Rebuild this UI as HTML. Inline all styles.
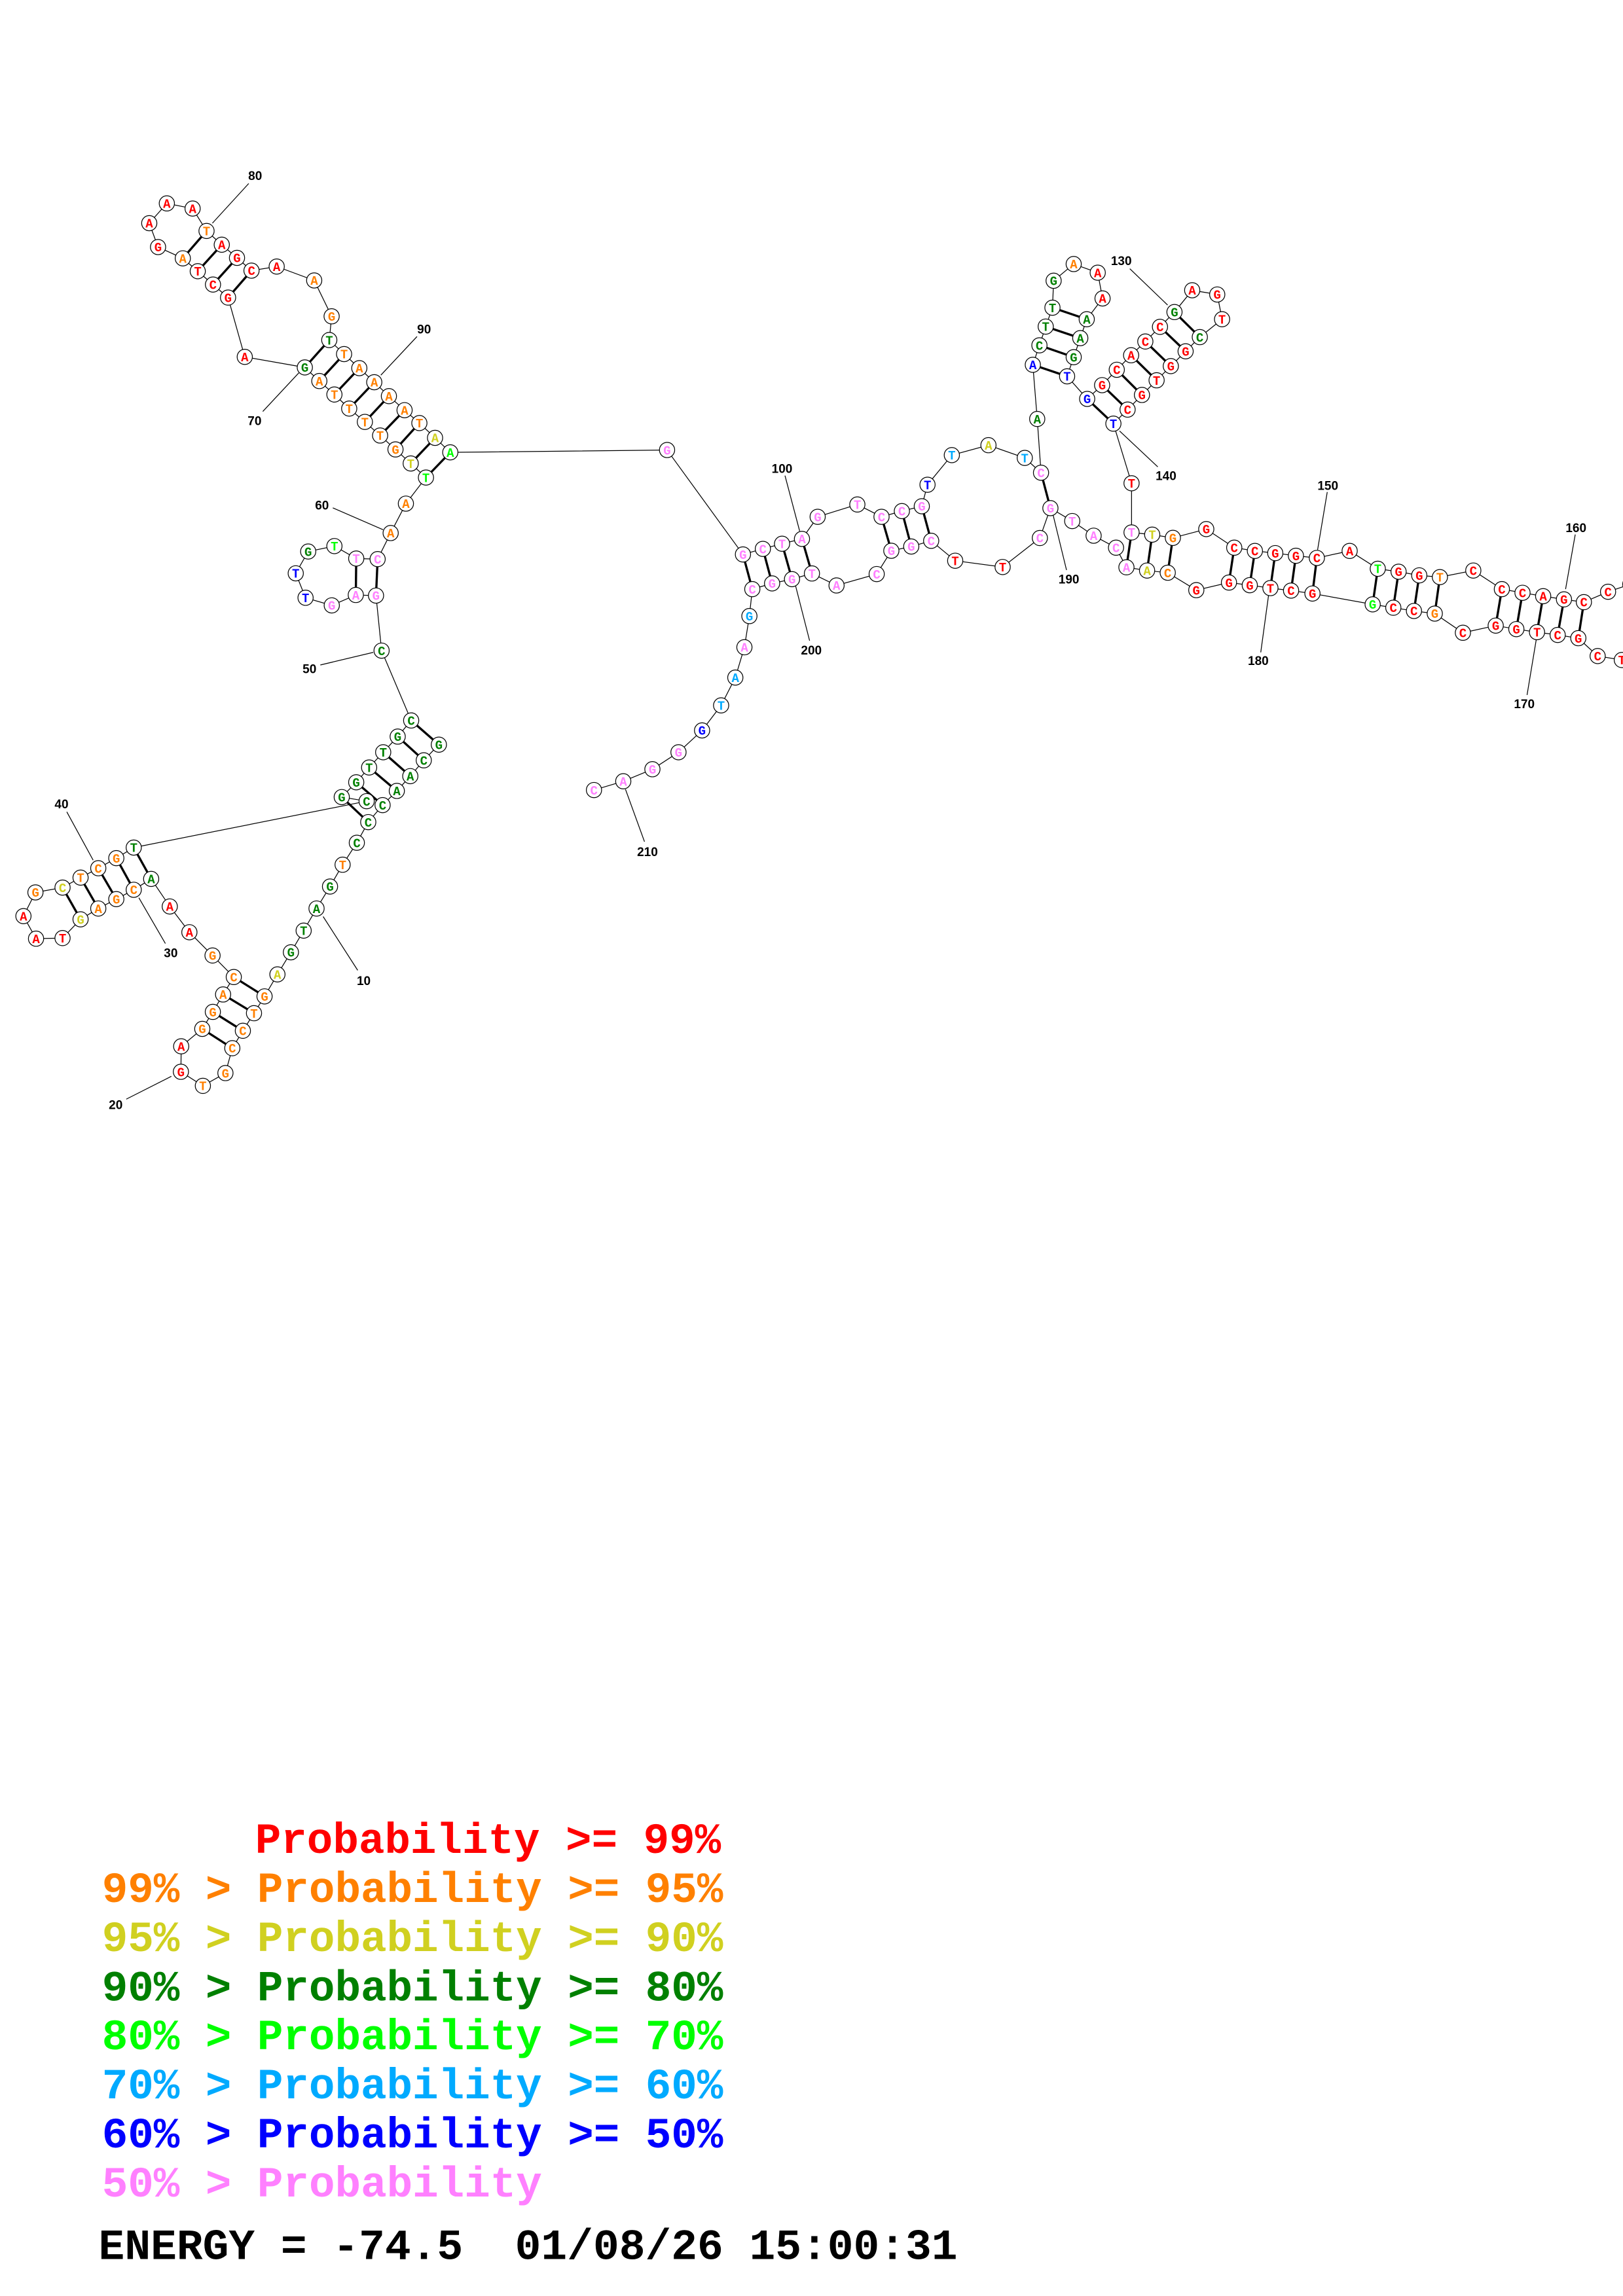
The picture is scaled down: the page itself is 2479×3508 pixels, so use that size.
<!DOCTYPE html>
<html><head><meta charset="utf-8"><style>
html,body{margin:0;padding:0;background:#fff}
svg{display:block}
.n circle{fill:#fff;stroke:#000;stroke-width:.55}
.n text{font-family:"Liberation Mono",monospace;font-weight:bold;font-size:8.5px;text-anchor:middle}
.R{fill:#ff0000}.O{fill:#ff8000}.Y{fill:#d0d020}.G{fill:#008000}.L{fill:#00ff00}.C{fill:#00aaff}.B{fill:#0000ff}.P{fill:#ff80ff}
.lab{font-family:"Liberation Sans",sans-serif;font-weight:bold;font-size:8.5px;text-anchor:middle;fill:#000}
.leg{font-family:"Liberation Mono",monospace;font-weight:bold;font-size:29.5px}
</style></head><body>
<svg width="2479" height="3508" viewBox="0 0 1108 1567.9" xmlns="http://www.w3.org/2000/svg">
<rect x="0" y="0" width="1108" height="1568" fill="#fff"/>
<g fill="none" stroke="#000" stroke-width="0.55">
<polyline points="299.6,508.5 289.3,519.2 280.1,530 270.9,540.1 261.2,549.8 251.4,561.4 243.6,575.5 233.9,590.5 225.3,605.4 216.1,620.4 207.3,635.5 198.6,650.3 189.4,665.4 180.6,680.4 173.4,691.9 165.8,703.9 158.6,715.8 153.9,732.8 138.5,741.5 123.5,731.9 123.7,714.5 138.1,702.6 145.3,691 152.3,679.1 159.6,667.2 145.1,652.5 129.3,636.6 115.9,619 103.2,600.2 91.3,607.6 79.4,614 67.1,620.4 55,627.8 42.7,640.6 24.6,641 16,625.6 24.2,609.4 42.7,606.1 55,599.3 67.1,592.9 79.4,586 91.3,578.8 250.3,547.1 233.3,544.3 243.2,534.2 252,524.1 261.6,513.7 271.5,503 280.7,492 260.5,444.3 256.7,406.7 242.9,406.3 226.5,413.4 208.6,408.2 201.9,391.5 210.4,376.6 228.3,372.9 243.2,381.4 257.8,381.8 266.7,364 277.1,343.9 290.8,326.1 280.4,316.5 270,306.9 259.5,297.4 249.1,288.1 238.4,279 228.3,269.4 218,260.2 208.1,250.9 167.1,243.7 155.7,203.2 145.4,194.3 135,185.2 124.8,176.4 107.9,168.7 101.9,152.4 113.9,138.9 131.5,142.4 141,157.7 151.4,167.1 161.8,176.1 171.7,184.8 188.9,182 214.5,191.5 226.4,216 224.8,232.2 234.9,241.8 245.3,251.4 255.5,261 265.5,270.5 276.2,280.1 286.3,288.9 297,299 307.4,308.9 455.4,307.3 507.2,378.6 520.8,374.8 533.9,371.3 547.5,368 558.2,352.9 585.3,344.5 601.8,352.9 615.7,349 629.3,345.7 633.2,331 649.8,310.8 674.8,304 699.6,312.7 710.7,322.8 708.1,286.1 705.1,249.1 709.6,235.8 713.9,223 718.5,210.1 719.3,191.7 733,180.3 749.4,186.2 752.7,203.8 741.9,218 737.5,230.9 733,243.9 728.5,257 742.2,272.4 752.4,263 762.4,252.5 772.2,242.6 781.9,233.2 791.9,223.2 801.8,213.1 813.9,198.2 831,201.1 834.3,218 819.1,230.2 809.4,239.9 799.3,250 789.6,259.7 779.6,269.7 769.8,279.7 760.1,289.3 772.5,330 772.5,363.6 786.6,365.1 800.7,367.3 823.5,361.3 842.6,374 856.7,376.2 870.6,377.7 884.7,379.5 899,381 921.4,376.2 940.6,388.4 954.8,390.4 968.9,392.9 983,394.1 1005.8,389.6 1025.3,402.3 1039.4,404.8 1053.5,407.1 1067.7,409.3 1081.3,411.2 1097.8,404.1 1113,399 1135,420 1122,452 1107.2,450.7 1090.7,448 1077.5,435.8 1063.4,433.6 1049.3,431.7 1035.2,429.6 1021.1,427.2 998.7,432.1 979.5,419 965.3,417.2 951.2,415 937.1,412.7 896,405.3 881.4,403.3 867.3,401.6 853.2,399.6 839,397.8 816.7,403 797.2,391.1 783.1,389.6 769,387.4 761.9,374 746.6,365.8 732,355.8 717.1,347 709.9,367.4 684.5,387.2 652.1,382.9 635.7,369.3 622.1,373.2 608.5,376.1 598.5,392 571.1,399.8 554.3,391.6 540.7,395.5 527.1,398.4 513.6,402.3 511.6,420.7 508.2,442 502,462.7 492.3,481.7 479.3,498.8 463.2,513.7 445.4,525.3 425.5,533.5 405.5,539.5"/>
<!-- labels leader lines -->
<line x1="244.2" y1="662.6" x2="220.6" y2="625.9"/>
<line x1="86.2" y1="750.6" x2="117" y2="735"/>
<line x1="112.9" y1="644.3" x2="94.8" y2="613.1"/>
<line x1="45.6" y1="554.4" x2="63.6" y2="587.4"/>
<line x1="218.7" y1="454.1" x2="254.8" y2="445.5"/>
<line x1="227.2" y1="346.8" x2="261.5" y2="361.7"/>
<line x1="204" y1="254.6" x2="179.4" y2="281"/>
<line x1="145" y1="152.4" x2="169.8" y2="125.3"/>
<line x1="260" y1="256.2" x2="284.7" y2="229.8"/>
<line x1="535.9" y1="324.8" x2="545.9" y2="362.6"/>
<line x1="771.3" y1="183.5" x2="797.1" y2="208.3"/>
<line x1="764.3" y1="294.3" x2="790.4" y2="318.8"/>
<line x1="906.1" y1="336" x2="899.5" y2="375.5"/>
<line x1="1075.4" y1="365" x2="1068.8" y2="402.3"/>
<line x1="1042.5" y1="474.6" x2="1048.8" y2="436.6"/>
<line x1="860.7" y1="445.5" x2="866.1" y2="406"/>
<line x1="719" y1="351.9" x2="728.1" y2="389.3"/>
<line x1="543.2" y1="400.3" x2="552.7" y2="437.5"/>
<line x1="440" y1="574.8" x2="427" y2="539"/>
</g>
<g stroke="#000" stroke-width="1.5">
<line x1="299.6" y1="508.5" x2="280.7" y2="492"/>
<line x1="289.3" y1="519.2" x2="271.5" y2="503"/>
<line x1="280.1" y1="530" x2="261.6" y2="513.7"/>
<line x1="270.9" y1="540.1" x2="252" y2="524.1"/>
<line x1="261.2" y1="549.8" x2="243.2" y2="534.2"/>
<line x1="251.4" y1="561.4" x2="233.3" y2="544.3"/>
<line x1="180.6" y1="680.4" x2="159.6" y2="667.2"/>
<line x1="173.4" y1="691.9" x2="152.3" y2="679.1"/>
<line x1="165.8" y1="703.9" x2="145.3" y2="691"/>
<line x1="158.6" y1="715.8" x2="138.1" y2="702.6"/>
<line x1="103.2" y1="600.2" x2="91.3" y2="578.8"/>
<line x1="91.3" y1="607.6" x2="79.4" y2="586"/>
<line x1="79.4" y1="614" x2="67.1" y2="592.9"/>
<line x1="67.1" y1="620.4" x2="55" y2="599.3"/>
<line x1="55" y1="627.8" x2="42.7" y2="606.1"/>
<line x1="256.7" y1="406.7" x2="257.8" y2="381.8"/>
<line x1="242.9" y1="406.3" x2="243.2" y2="381.4"/>
<line x1="290.8" y1="326.1" x2="307.4" y2="308.9"/>
<line x1="280.4" y1="316.5" x2="297" y2="299"/>
<line x1="270" y1="306.9" x2="286.3" y2="288.9"/>
<line x1="259.5" y1="297.4" x2="276.2" y2="280.1"/>
<line x1="249.1" y1="288.1" x2="265.5" y2="270.5"/>
<line x1="238.4" y1="279" x2="255.5" y2="261"/>
<line x1="228.3" y1="269.4" x2="245.3" y2="251.4"/>
<line x1="218" y1="260.2" x2="234.9" y2="241.8"/>
<line x1="208.1" y1="250.9" x2="224.8" y2="232.2"/>
<line x1="155.7" y1="203.2" x2="171.7" y2="184.8"/>
<line x1="145.4" y1="194.3" x2="161.8" y2="176.1"/>
<line x1="135" y1="185.2" x2="151.4" y2="167.1"/>
<line x1="124.8" y1="176.4" x2="141" y2="157.7"/>
<line x1="507.2" y1="378.6" x2="513.6" y2="402.3"/>
<line x1="520.8" y1="374.8" x2="527.1" y2="398.4"/>
<line x1="533.9" y1="371.3" x2="540.7" y2="395.5"/>
<line x1="547.5" y1="368" x2="554.3" y2="391.6"/>
<line x1="601.8" y1="352.9" x2="608.5" y2="376.1"/>
<line x1="615.7" y1="349" x2="622.1" y2="373.2"/>
<line x1="629.3" y1="345.7" x2="635.7" y2="369.3"/>
<line x1="710.7" y1="322.8" x2="717.1" y2="347"/>
<line x1="705.1" y1="249.1" x2="728.5" y2="257"/>
<line x1="709.6" y1="235.8" x2="733" y2="243.9"/>
<line x1="713.9" y1="223" x2="737.5" y2="230.9"/>
<line x1="718.5" y1="210.1" x2="741.9" y2="218"/>
<line x1="742.2" y1="272.4" x2="760.1" y2="289.3"/>
<line x1="752.4" y1="263" x2="769.8" y2="279.7"/>
<line x1="762.4" y1="252.5" x2="779.6" y2="269.7"/>
<line x1="772.2" y1="242.6" x2="789.6" y2="259.7"/>
<line x1="781.9" y1="233.2" x2="799.3" y2="250"/>
<line x1="791.9" y1="223.2" x2="809.4" y2="239.9"/>
<line x1="801.8" y1="213.1" x2="819.1" y2="230.2"/>
<line x1="772.5" y1="363.6" x2="769" y2="387.4"/>
<line x1="786.6" y1="365.1" x2="783.1" y2="389.6"/>
<line x1="800.7" y1="367.3" x2="797.2" y2="391.1"/>
<line x1="842.6" y1="374" x2="839" y2="397.8"/>
<line x1="856.7" y1="376.2" x2="853.2" y2="399.6"/>
<line x1="870.6" y1="377.7" x2="867.3" y2="401.6"/>
<line x1="884.7" y1="379.5" x2="881.4" y2="403.3"/>
<line x1="899" y1="381" x2="896" y2="405.3"/>
<line x1="940.6" y1="388.4" x2="937.1" y2="412.7"/>
<line x1="954.8" y1="390.4" x2="951.2" y2="415"/>
<line x1="968.9" y1="392.9" x2="965.3" y2="417.2"/>
<line x1="983" y1="394.1" x2="979.5" y2="419"/>
<line x1="1025.3" y1="402.3" x2="1021.1" y2="427.2"/>
<line x1="1039.4" y1="404.8" x2="1035.2" y2="429.6"/>
<line x1="1053.5" y1="407.1" x2="1049.3" y2="431.7"/>
<line x1="1067.7" y1="409.3" x2="1063.4" y2="433.6"/>
<line x1="1081.3" y1="411.2" x2="1077.5" y2="435.8"/>
</g>
<g class="n">
<g transform="translate(299.6,508.5)"><circle r="5.2"/><text y="3" class="G">G</text></g>
<g transform="translate(289.3,519.2)"><circle r="5.2"/><text y="3" class="G">C</text></g>
<g transform="translate(280.1,530)"><circle r="5.2"/><text y="3" class="G">A</text></g>
<g transform="translate(270.9,540.1)"><circle r="5.2"/><text y="3" class="G">A</text></g>
<g transform="translate(261.2,549.8)"><circle r="5.2"/><text y="3" class="G">C</text></g>
<g transform="translate(251.4,561.4)"><circle r="5.2"/><text y="3" class="G">C</text></g>
<g transform="translate(243.6,575.5)"><circle r="5.2"/><text y="3" class="G">C</text></g>
<g transform="translate(233.9,590.5)"><circle r="5.2"/><text y="3" class="O">T</text></g>
<g transform="translate(225.3,605.4)"><circle r="5.2"/><text y="3" class="G">G</text></g>
<g transform="translate(216.1,620.4)"><circle r="5.2"/><text y="3" class="G">A</text></g>
<g transform="translate(207.3,635.5)"><circle r="5.2"/><text y="3" class="G">T</text></g>
<g transform="translate(198.6,650.3)"><circle r="5.2"/><text y="3" class="G">G</text></g>
<g transform="translate(189.4,665.4)"><circle r="5.2"/><text y="3" class="Y">A</text></g>
<g transform="translate(180.6,680.4)"><circle r="5.2"/><text y="3" class="O">G</text></g>
<g transform="translate(173.4,691.9)"><circle r="5.2"/><text y="3" class="O">T</text></g>
<g transform="translate(165.8,703.9)"><circle r="5.2"/><text y="3" class="O">C</text></g>
<g transform="translate(158.6,715.8)"><circle r="5.2"/><text y="3" class="O">C</text></g>
<g transform="translate(153.9,732.8)"><circle r="5.2"/><text y="3" class="O">G</text></g>
<g transform="translate(138.5,741.5)"><circle r="5.2"/><text y="3" class="O">T</text></g>
<g transform="translate(123.5,731.9)"><circle r="5.2"/><text y="3" class="R">G</text></g>
<g transform="translate(123.7,714.5)"><circle r="5.2"/><text y="3" class="R">A</text></g>
<g transform="translate(138.1,702.6)"><circle r="5.2"/><text y="3" class="O">G</text></g>
<g transform="translate(145.3,691)"><circle r="5.2"/><text y="3" class="O">G</text></g>
<g transform="translate(152.3,679.1)"><circle r="5.2"/><text y="3" class="O">A</text></g>
<g transform="translate(159.6,667.2)"><circle r="5.2"/><text y="3" class="O">C</text></g>
<g transform="translate(145.1,652.5)"><circle r="5.2"/><text y="3" class="O">G</text></g>
<g transform="translate(129.3,636.6)"><circle r="5.2"/><text y="3" class="R">A</text></g>
<g transform="translate(115.9,619)"><circle r="5.2"/><text y="3" class="R">A</text></g>
<g transform="translate(103.2,600.2)"><circle r="5.2"/><text y="3" class="G">A</text></g>
<g transform="translate(91.3,607.6)"><circle r="5.2"/><text y="3" class="O">C</text></g>
<g transform="translate(79.4,614)"><circle r="5.2"/><text y="3" class="O">G</text></g>
<g transform="translate(67.1,620.4)"><circle r="5.2"/><text y="3" class="O">A</text></g>
<g transform="translate(55,627.8)"><circle r="5.2"/><text y="3" class="Y">G</text></g>
<g transform="translate(42.7,640.6)"><circle r="5.2"/><text y="3" class="R">T</text></g>
<g transform="translate(24.6,641)"><circle r="5.2"/><text y="3" class="R">A</text></g>
<g transform="translate(16,625.6)"><circle r="5.2"/><text y="3" class="R">A</text></g>
<g transform="translate(24.2,609.4)"><circle r="5.2"/><text y="3" class="O">G</text></g>
<g transform="translate(42.7,606.1)"><circle r="5.2"/><text y="3" class="Y">C</text></g>
<g transform="translate(55,599.3)"><circle r="5.2"/><text y="3" class="O">T</text></g>
<g transform="translate(67.1,592.9)"><circle r="5.2"/><text y="3" class="O">C</text></g>
<g transform="translate(79.4,586)"><circle r="5.2"/><text y="3" class="O">G</text></g>
<g transform="translate(91.3,578.8)"><circle r="5.2"/><text y="3" class="G">T</text></g>
<g transform="translate(250.3,547.1)"><circle r="5.2"/><text y="3" class="G">C</text></g>
<g transform="translate(233.3,544.3)"><circle r="5.2"/><text y="3" class="G">G</text></g>
<g transform="translate(243.2,534.2)"><circle r="5.2"/><text y="3" class="G">G</text></g>
<g transform="translate(252,524.1)"><circle r="5.2"/><text y="3" class="G">T</text></g>
<g transform="translate(261.6,513.7)"><circle r="5.2"/><text y="3" class="G">T</text></g>
<g transform="translate(271.5,503)"><circle r="5.2"/><text y="3" class="G">G</text></g>
<g transform="translate(280.7,492)"><circle r="5.2"/><text y="3" class="G">C</text></g>
<g transform="translate(260.5,444.3)"><circle r="5.2"/><text y="3" class="G">C</text></g>
<g transform="translate(256.7,406.7)"><circle r="5.2"/><text y="3" class="P">G</text></g>
<g transform="translate(242.9,406.3)"><circle r="5.2"/><text y="3" class="P">A</text></g>
<g transform="translate(226.5,413.4)"><circle r="5.2"/><text y="3" class="P">G</text></g>
<g transform="translate(208.6,408.2)"><circle r="5.2"/><text y="3" class="B">T</text></g>
<g transform="translate(201.9,391.5)"><circle r="5.2"/><text y="3" class="B">T</text></g>
<g transform="translate(210.4,376.6)"><circle r="5.2"/><text y="3" class="G">G</text></g>
<g transform="translate(228.3,372.9)"><circle r="5.2"/><text y="3" class="L">T</text></g>
<g transform="translate(243.2,381.4)"><circle r="5.2"/><text y="3" class="P">T</text></g>
<g transform="translate(257.8,381.8)"><circle r="5.2"/><text y="3" class="P">C</text></g>
<g transform="translate(266.7,364)"><circle r="5.2"/><text y="3" class="O">A</text></g>
<g transform="translate(277.1,343.9)"><circle r="5.2"/><text y="3" class="O">A</text></g>
<g transform="translate(290.8,326.1)"><circle r="5.2"/><text y="3" class="L">T</text></g>
<g transform="translate(280.4,316.5)"><circle r="5.2"/><text y="3" class="Y">T</text></g>
<g transform="translate(270,306.9)"><circle r="5.2"/><text y="3" class="O">G</text></g>
<g transform="translate(259.5,297.4)"><circle r="5.2"/><text y="3" class="O">T</text></g>
<g transform="translate(249.1,288.1)"><circle r="5.2"/><text y="3" class="O">T</text></g>
<g transform="translate(238.4,279)"><circle r="5.2"/><text y="3" class="O">T</text></g>
<g transform="translate(228.3,269.4)"><circle r="5.2"/><text y="3" class="O">T</text></g>
<g transform="translate(218,260.2)"><circle r="5.2"/><text y="3" class="O">A</text></g>
<g transform="translate(208.1,250.9)"><circle r="5.2"/><text y="3" class="G">G</text></g>
<g transform="translate(167.1,243.7)"><circle r="5.2"/><text y="3" class="R">A</text></g>
<g transform="translate(155.7,203.2)"><circle r="5.2"/><text y="3" class="R">G</text></g>
<g transform="translate(145.4,194.3)"><circle r="5.2"/><text y="3" class="R">C</text></g>
<g transform="translate(135,185.2)"><circle r="5.2"/><text y="3" class="R">T</text></g>
<g transform="translate(124.8,176.4)"><circle r="5.2"/><text y="3" class="O">A</text></g>
<g transform="translate(107.9,168.7)"><circle r="5.2"/><text y="3" class="R">G</text></g>
<g transform="translate(101.9,152.4)"><circle r="5.2"/><text y="3" class="R">A</text></g>
<g transform="translate(113.9,138.9)"><circle r="5.2"/><text y="3" class="R">A</text></g>
<g transform="translate(131.5,142.4)"><circle r="5.2"/><text y="3" class="R">A</text></g>
<g transform="translate(141,157.7)"><circle r="5.2"/><text y="3" class="O">T</text></g>
<g transform="translate(151.4,167.1)"><circle r="5.2"/><text y="3" class="R">A</text></g>
<g transform="translate(161.8,176.1)"><circle r="5.2"/><text y="3" class="R">G</text></g>
<g transform="translate(171.7,184.8)"><circle r="5.2"/><text y="3" class="R">C</text></g>
<g transform="translate(188.9,182)"><circle r="5.2"/><text y="3" class="R">A</text></g>
<g transform="translate(214.5,191.5)"><circle r="5.2"/><text y="3" class="O">A</text></g>
<g transform="translate(226.4,216)"><circle r="5.2"/><text y="3" class="O">G</text></g>
<g transform="translate(224.8,232.2)"><circle r="5.2"/><text y="3" class="G">T</text></g>
<g transform="translate(234.9,241.8)"><circle r="5.2"/><text y="3" class="O">T</text></g>
<g transform="translate(245.3,251.4)"><circle r="5.2"/><text y="3" class="O">A</text></g>
<g transform="translate(255.5,261)"><circle r="5.2"/><text y="3" class="O">A</text></g>
<g transform="translate(265.5,270.5)"><circle r="5.2"/><text y="3" class="O">A</text></g>
<g transform="translate(276.2,280.1)"><circle r="5.2"/><text y="3" class="O">A</text></g>
<g transform="translate(286.3,288.9)"><circle r="5.2"/><text y="3" class="O">T</text></g>
<g transform="translate(297,299)"><circle r="5.2"/><text y="3" class="Y">A</text></g>
<g transform="translate(307.4,308.9)"><circle r="5.2"/><text y="3" class="L">A</text></g>
<g transform="translate(455.4,307.3)"><circle r="5.2"/><text y="3" class="P">G</text></g>
<g transform="translate(507.2,378.6)"><circle r="5.2"/><text y="3" class="P">G</text></g>
<g transform="translate(520.8,374.8)"><circle r="5.2"/><text y="3" class="P">C</text></g>
<g transform="translate(533.9,371.3)"><circle r="5.2"/><text y="3" class="P">T</text></g>
<g transform="translate(547.5,368)"><circle r="5.2"/><text y="3" class="P">A</text></g>
<g transform="translate(558.2,352.9)"><circle r="5.2"/><text y="3" class="P">G</text></g>
<g transform="translate(585.3,344.5)"><circle r="5.2"/><text y="3" class="P">T</text></g>
<g transform="translate(601.8,352.9)"><circle r="5.2"/><text y="3" class="P">C</text></g>
<g transform="translate(615.7,349)"><circle r="5.2"/><text y="3" class="P">C</text></g>
<g transform="translate(629.3,345.7)"><circle r="5.2"/><text y="3" class="P">G</text></g>
<g transform="translate(633.2,331)"><circle r="5.2"/><text y="3" class="B">T</text></g>
<g transform="translate(649.8,310.8)"><circle r="5.2"/><text y="3" class="C">T</text></g>
<g transform="translate(674.8,304)"><circle r="5.2"/><text y="3" class="Y">A</text></g>
<g transform="translate(699.6,312.7)"><circle r="5.2"/><text y="3" class="C">T</text></g>
<g transform="translate(710.7,322.8)"><circle r="5.2"/><text y="3" class="P">C</text></g>
<g transform="translate(708.1,286.1)"><circle r="5.2"/><text y="3" class="G">A</text></g>
<g transform="translate(705.1,249.1)"><circle r="5.2"/><text y="3" class="B">A</text></g>
<g transform="translate(709.6,235.8)"><circle r="5.2"/><text y="3" class="G">C</text></g>
<g transform="translate(713.9,223)"><circle r="5.2"/><text y="3" class="G">T</text></g>
<g transform="translate(718.5,210.1)"><circle r="5.2"/><text y="3" class="G">T</text></g>
<g transform="translate(719.3,191.7)"><circle r="5.2"/><text y="3" class="G">G</text></g>
<g transform="translate(733,180.3)"><circle r="5.2"/><text y="3" class="O">A</text></g>
<g transform="translate(749.4,186.2)"><circle r="5.2"/><text y="3" class="R">A</text></g>
<g transform="translate(752.7,203.8)"><circle r="5.2"/><text y="3" class="R">A</text></g>
<g transform="translate(741.9,218)"><circle r="5.2"/><text y="3" class="G">A</text></g>
<g transform="translate(737.5,230.9)"><circle r="5.2"/><text y="3" class="G">A</text></g>
<g transform="translate(733,243.9)"><circle r="5.2"/><text y="3" class="G">G</text></g>
<g transform="translate(728.5,257)"><circle r="5.2"/><text y="3" class="B">T</text></g>
<g transform="translate(742.2,272.4)"><circle r="5.2"/><text y="3" class="B">G</text></g>
<g transform="translate(752.4,263)"><circle r="5.2"/><text y="3" class="R">G</text></g>
<g transform="translate(762.4,252.5)"><circle r="5.2"/><text y="3" class="R">C</text></g>
<g transform="translate(772.2,242.6)"><circle r="5.2"/><text y="3" class="R">A</text></g>
<g transform="translate(781.9,233.2)"><circle r="5.2"/><text y="3" class="R">C</text></g>
<g transform="translate(791.9,223.2)"><circle r="5.2"/><text y="3" class="R">C</text></g>
<g transform="translate(801.8,213.1)"><circle r="5.2"/><text y="3" class="G">G</text></g>
<g transform="translate(813.9,198.2)"><circle r="5.2"/><text y="3" class="R">A</text></g>
<g transform="translate(831,201.1)"><circle r="5.2"/><text y="3" class="R">G</text></g>
<g transform="translate(834.3,218)"><circle r="5.2"/><text y="3" class="R">T</text></g>
<g transform="translate(819.1,230.2)"><circle r="5.2"/><text y="3" class="G">C</text></g>
<g transform="translate(809.4,239.9)"><circle r="5.2"/><text y="3" class="R">G</text></g>
<g transform="translate(799.3,250)"><circle r="5.2"/><text y="3" class="R">G</text></g>
<g transform="translate(789.6,259.7)"><circle r="5.2"/><text y="3" class="R">T</text></g>
<g transform="translate(779.6,269.7)"><circle r="5.2"/><text y="3" class="R">G</text></g>
<g transform="translate(769.8,279.7)"><circle r="5.2"/><text y="3" class="R">C</text></g>
<g transform="translate(760.1,289.3)"><circle r="5.2"/><text y="3" class="B">T</text></g>
<g transform="translate(772.5,330)"><circle r="5.2"/><text y="3" class="R">T</text></g>
<g transform="translate(772.5,363.6)"><circle r="5.2"/><text y="3" class="P">T</text></g>
<g transform="translate(786.6,365.1)"><circle r="5.2"/><text y="3" class="Y">T</text></g>
<g transform="translate(800.7,367.3)"><circle r="5.2"/><text y="3" class="O">G</text></g>
<g transform="translate(823.5,361.3)"><circle r="5.2"/><text y="3" class="R">G</text></g>
<g transform="translate(842.6,374)"><circle r="5.2"/><text y="3" class="R">C</text></g>
<g transform="translate(856.7,376.2)"><circle r="5.2"/><text y="3" class="R">C</text></g>
<g transform="translate(870.6,377.7)"><circle r="5.2"/><text y="3" class="R">G</text></g>
<g transform="translate(884.7,379.5)"><circle r="5.2"/><text y="3" class="R">G</text></g>
<g transform="translate(899,381)"><circle r="5.2"/><text y="3" class="R">C</text></g>
<g transform="translate(921.4,376.2)"><circle r="5.2"/><text y="3" class="R">A</text></g>
<g transform="translate(940.6,388.4)"><circle r="5.2"/><text y="3" class="L">T</text></g>
<g transform="translate(954.8,390.4)"><circle r="5.2"/><text y="3" class="R">G</text></g>
<g transform="translate(968.9,392.9)"><circle r="5.2"/><text y="3" class="R">G</text></g>
<g transform="translate(983,394.1)"><circle r="5.2"/><text y="3" class="O">T</text></g>
<g transform="translate(1005.8,389.6)"><circle r="5.2"/><text y="3" class="R">C</text></g>
<g transform="translate(1025.3,402.3)"><circle r="5.2"/><text y="3" class="R">C</text></g>
<g transform="translate(1039.4,404.8)"><circle r="5.2"/><text y="3" class="R">C</text></g>
<g transform="translate(1053.5,407.1)"><circle r="5.2"/><text y="3" class="R">A</text></g>
<g transform="translate(1067.7,409.3)"><circle r="5.2"/><text y="3" class="R">G</text></g>
<g transform="translate(1081.3,411.2)"><circle r="5.2"/><text y="3" class="R">C</text></g>
<g transform="translate(1097.8,404.1)"><circle r="5.2"/><text y="3" class="R">C</text></g>
<g transform="translate(1113,399)"><circle r="5.2"/><text y="3" class="R">C</text></g>
<g transform="translate(1122,452)"><circle r="5.2"/><text y="3" class="R">C</text></g>
<g transform="translate(1107.2,450.7)"><circle r="5.2"/><text y="3" class="R">T</text></g>
<g transform="translate(1090.7,448)"><circle r="5.2"/><text y="3" class="R">C</text></g>
<g transform="translate(1077.5,435.8)"><circle r="5.2"/><text y="3" class="R">G</text></g>
<g transform="translate(1063.4,433.6)"><circle r="5.2"/><text y="3" class="R">C</text></g>
<g transform="translate(1049.3,431.7)"><circle r="5.2"/><text y="3" class="R">T</text></g>
<g transform="translate(1035.2,429.6)"><circle r="5.2"/><text y="3" class="R">G</text></g>
<g transform="translate(1021.1,427.2)"><circle r="5.2"/><text y="3" class="R">G</text></g>
<g transform="translate(998.7,432.1)"><circle r="5.2"/><text y="3" class="R">C</text></g>
<g transform="translate(979.5,419)"><circle r="5.2"/><text y="3" class="O">G</text></g>
<g transform="translate(965.3,417.2)"><circle r="5.2"/><text y="3" class="R">C</text></g>
<g transform="translate(951.2,415)"><circle r="5.2"/><text y="3" class="R">C</text></g>
<g transform="translate(937.1,412.7)"><circle r="5.2"/><text y="3" class="L">G</text></g>
<g transform="translate(896,405.3)"><circle r="5.2"/><text y="3" class="R">G</text></g>
<g transform="translate(881.4,403.3)"><circle r="5.2"/><text y="3" class="R">C</text></g>
<g transform="translate(867.3,401.6)"><circle r="5.2"/><text y="3" class="R">T</text></g>
<g transform="translate(853.2,399.6)"><circle r="5.2"/><text y="3" class="R">G</text></g>
<g transform="translate(839,397.8)"><circle r="5.2"/><text y="3" class="R">G</text></g>
<g transform="translate(816.7,403)"><circle r="5.2"/><text y="3" class="R">G</text></g>
<g transform="translate(797.2,391.1)"><circle r="5.2"/><text y="3" class="O">C</text></g>
<g transform="translate(783.1,389.6)"><circle r="5.2"/><text y="3" class="Y">A</text></g>
<g transform="translate(769,387.4)"><circle r="5.2"/><text y="3" class="P">A</text></g>
<g transform="translate(761.9,374)"><circle r="5.2"/><text y="3" class="P">C</text></g>
<g transform="translate(746.6,365.8)"><circle r="5.2"/><text y="3" class="P">A</text></g>
<g transform="translate(732,355.8)"><circle r="5.2"/><text y="3" class="P">T</text></g>
<g transform="translate(717.1,347)"><circle r="5.2"/><text y="3" class="P">G</text></g>
<g transform="translate(709.9,367.4)"><circle r="5.2"/><text y="3" class="P">C</text></g>
<g transform="translate(684.5,387.2)"><circle r="5.2"/><text y="3" class="R">T</text></g>
<g transform="translate(652.1,382.9)"><circle r="5.2"/><text y="3" class="R">T</text></g>
<g transform="translate(635.7,369.3)"><circle r="5.2"/><text y="3" class="P">C</text></g>
<g transform="translate(622.1,373.2)"><circle r="5.2"/><text y="3" class="P">G</text></g>
<g transform="translate(608.5,376.1)"><circle r="5.2"/><text y="3" class="P">G</text></g>
<g transform="translate(598.5,392)"><circle r="5.2"/><text y="3" class="P">C</text></g>
<g transform="translate(571.1,399.8)"><circle r="5.2"/><text y="3" class="P">A</text></g>
<g transform="translate(554.3,391.6)"><circle r="5.2"/><text y="3" class="P">T</text></g>
<g transform="translate(540.7,395.5)"><circle r="5.2"/><text y="3" class="P">G</text></g>
<g transform="translate(527.1,398.4)"><circle r="5.2"/><text y="3" class="P">G</text></g>
<g transform="translate(513.6,402.3)"><circle r="5.2"/><text y="3" class="P">C</text></g>
<g transform="translate(511.6,420.7)"><circle r="5.2"/><text y="3" class="C">G</text></g>
<g transform="translate(508.2,442)"><circle r="5.2"/><text y="3" class="P">A</text></g>
<g transform="translate(502,462.7)"><circle r="5.2"/><text y="3" class="C">A</text></g>
<g transform="translate(492.3,481.7)"><circle r="5.2"/><text y="3" class="C">T</text></g>
<g transform="translate(479.3,498.8)"><circle r="5.2"/><text y="3" class="B">G</text></g>
<g transform="translate(463.2,513.7)"><circle r="5.2"/><text y="3" class="P">G</text></g>
<g transform="translate(445.4,525.3)"><circle r="5.2"/><text y="3" class="P">G</text></g>
<g transform="translate(425.5,533.5)"><circle r="5.2"/><text y="3" class="P">A</text></g>
<g transform="translate(405.5,539.5)"><circle r="5.2"/><text y="3" class="P">C</text></g>
</g>
<g class="lab">
<text x="248.3" y="672.6">10</text>
<text x="79" y="757.3">20</text>
<text x="116.6" y="653.7">30</text>
<text x="42" y="551.9">40</text>
<text x="211.3" y="459.6">50</text>
<text x="219.8" y="347.9">60</text>
<text x="173.8" y="290.3">70</text>
<text x="174.2" y="123">80</text>
<text x="289.5" y="227.7">90</text>
<text x="533.9" y="322.9">100</text>
<text x="765.5" y="181">130</text>
<text x="796" y="327.8">140</text>
<text x="906.5" y="334.5">150</text>
<text x="1075.9" y="363.3">160</text>
<text x="1040.6" y="483.5">170</text>
<text x="859" y="454.2">180</text>
<text x="729.7" y="398.5">190</text>
<text x="553.9" y="447">200</text>
<text x="442" y="584.5">210</text>
</g>
<g class="leg">
<text x="174.2" y="1265.4" fill="#ff0000" textLength="318" lengthAdjust="spacingAndGlyphs">Probability &gt;= 99%</text>
<text x="69.6" y="1298.9" fill="#ff8000" textLength="424" lengthAdjust="spacingAndGlyphs">99% &gt; Probability &gt;= 95%</text>
<text x="69.6" y="1332.4" fill="#d0d020" textLength="424" lengthAdjust="spacingAndGlyphs">95% &gt; Probability &gt;= 90%</text>
<text x="69.6" y="1366" fill="#008000" textLength="424" lengthAdjust="spacingAndGlyphs">90% &gt; Probability &gt;= 80%</text>
<text x="69.6" y="1399.5" fill="#00ff00" textLength="424" lengthAdjust="spacingAndGlyphs">80% &gt; Probability &gt;= 70%</text>
<text x="69.6" y="1433" fill="#00aaff" textLength="424" lengthAdjust="spacingAndGlyphs">70% &gt; Probability &gt;= 60%</text>
<text x="69.6" y="1466.5" fill="#0000ff" textLength="424" lengthAdjust="spacingAndGlyphs">60% &gt; Probability &gt;= 50%</text>
<text x="69.6" y="1500" fill="#ff80ff" textLength="300.4" lengthAdjust="spacingAndGlyphs">50% &gt; Probability</text>
<text x="67.3" y="1542.7" fill="#000" textLength="586.4" lengthAdjust="spacingAndGlyphs" xml:space="preserve">ENERGY = -74.5  01/08/26 15:00:31</text>
</g>
</svg>
</body></html>
